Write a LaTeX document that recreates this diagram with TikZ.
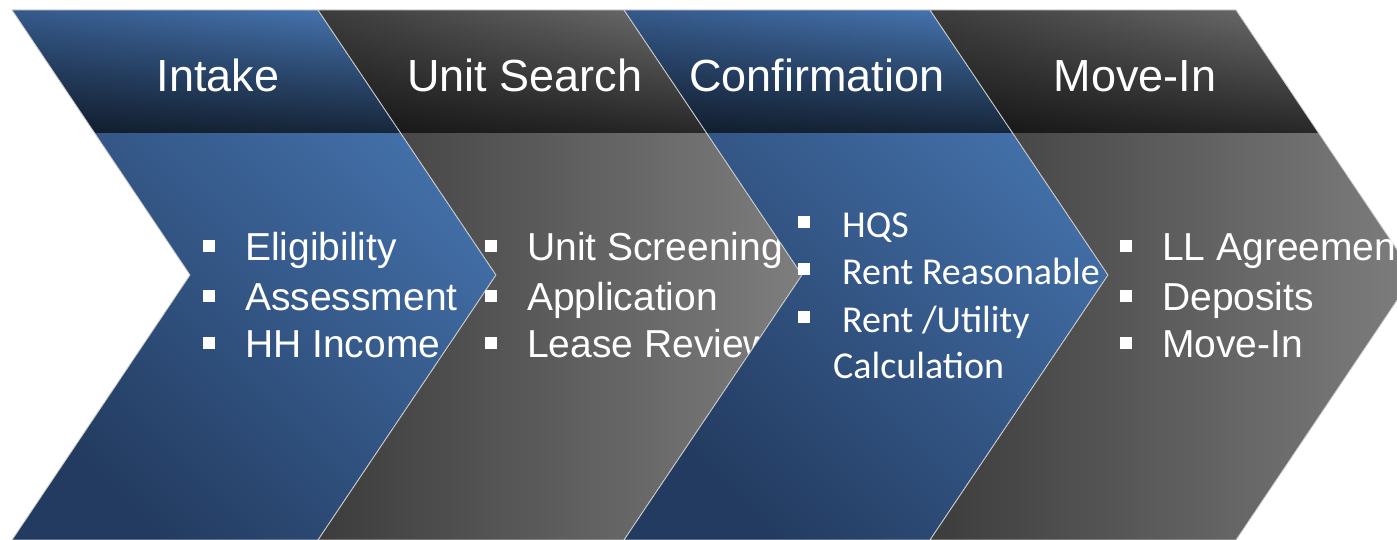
\documentclass[tikz,border=0pt]{standalone}
\usepackage{fontspec}
\setmainfont{Liberation Sans}
\newfontfamily\calibri{Carlito}
\usetikzlibrary{fadings}

\definecolor{blueL}{HTML}{4675B0}
\definecolor{blueD}{HTML}{233B60}
\definecolor{greyL}{HTML}{7E7E7E}
\definecolor{greyD}{HTML}{3C3C3C}

% header darkens towards its lower edge
\tikzfading[name=headfade, top color=transparent!100, bottom color=transparent!35]

% square bullets
\newcommand{\sqb}{\rule[8pt]{12pt}{12pt}\hspace{30pt}}
\newcommand{\csqb}{\rule[9pt]{12pt}{12pt}\hspace{32pt}}

% one step: body, darkened header, light rim
\newcommand{\chev}[2]{%
  \shade[#2] (#1,10) -- ++(306,0) -- ++(178,265) -- ++(-178,265) -- ++(-306,0) -- ++(178,-265) -- cycle;
  \fill[headshade] (#1,10) -- ++(306,0) -- ++(82.6,123) -- ++(-306,0) -- cycle;
  \draw[rim] (#1,10) -- ++(306,0) -- ++(178,265) -- ++(-178,265) -- ++(-306,0) -- ++(178,-265) -- cycle;}

\begin{document}
\begin{tikzpicture}[x=1pt, y=-1pt,
  bluebody/.style={bottom color=blueD, top color=blueL, shading angle=-45},
  greybody/.style={left color=greyD, right color=greyL},
  headshade/.style={fill=black, path fading=headfade},
  rim/.style={draw=white!60!gray, line width=0.8pt},
  head/.style={text=white, anchor=base, inner sep=0pt, font=\fontsize{45}{54}\selectfont},
  item/.style={text=white, anchor=base west, inner sep=0pt, font=\fontsize{39}{47}\selectfont},
  citem/.style={item, font=\calibri\fontsize{38}{46}\selectfont}]
\fill[white] (0,0) rectangle (1397,540);
\useasboundingbox (0,0) rectangle (1397,540);
\clip (0,0) rectangle (1397,540);

% Intake
\chev{12}{bluebody}
\node[head] (intake) at (218,92) {Intake};
\node[item] (intake1) at (203,260) {\sqb Eligibility};
\node[item] (intake2) at (203,310) {\sqb Assessment};
\node[item] (intake3) at (203,357) {\sqb HH Income};

% Unit Search
\chev{318}{greybody}
\node[head] (search) at (525,92) {Unit Search};
\node[item] (search1) at (485,260) {\sqb Unit Screening};
\node[item] (search2) at (485,310) {\sqb Application};
\node[item] (search3) at (485,357) {\sqb Lease Review};

% Confirmation
\chev{624}{bluebody}
\node[head] (confirm) at (817,92) {Confirmation};
\node[citem] (confirm1) at (798,237) {\csqb HQS};
\node[citem] (confirm2) at (798,284) {\csqb Rent Reasonable};
\node[citem] (confirm3) at (798,332) {\csqb Rent /Utility};
\node[citem] (confirm4) at (833,378) {Calculation};

% Move-In
\chev{930}{greybody}
\node[head] (movein) at (1135,92) {Move-In};
\node[item] (movein1) at (1120,260) {\sqb LL Agreement};
\node[item] (movein2) at (1120,310) {\sqb Deposits};
\node[item] (movein3) at (1120,357) {\sqb Move-In};
\end{tikzpicture}
\end{document}
